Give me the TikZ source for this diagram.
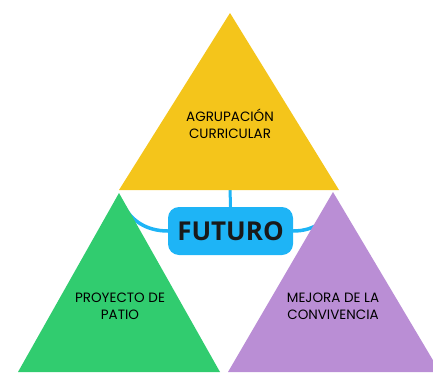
\documentclass[tikz,border=0pt]{standalone}
\usepackage{fontspec}
\setmainfont{Poppins}
\newfontfamily\boxfont{Open Sans}
\definecolor{cyel}{HTML}{F4C51B}
\definecolor{cgrn}{HTML}{31CC6F}
\definecolor{cpur}{HTML}{BA8ED5}
\definecolor{cblu}{HTML}{1EB4F6}
\pgfdeclarelayer{lyrA}
\pgfdeclarelayer{lyrB}
\pgfsetlayers{lyrA,lyrB,main}
\tikzset{
  conn/.style={draw=cblu, line width=3.5pt},
  lbl/.style={align=center, font=\fontsize{13.5}{17}\selectfont, text=black, inner sep=0pt},
  mainbox/.style={fill=cblu, rounded corners=11pt, minimum width=125pt, minimum height=48pt, inner sep=0pt, font=\boxfont\bfseries\fontsize{26}{30}\selectfont, text=black!90}
}
\begin{document}
\begin{tikzpicture}[x=1pt,y=-1pt]
\useasboundingbox (0,0) rectangle (433,372);
\clip (0,0) rectangle (433,372);
% coordinates
\coordinate (ya) at (230,13);
\coordinate (ga) at (119,193);
\coordinate (pa) at (333,192);
\coordinate (gin) at (124,206);
\coordinate (pin) at (328,205);
\coordinate (ybase) at (230,188);
% central node
\node[mainbox] (fut) at (230.5,231) {FUTURO};
% connectors (under the triangles)
\begin{pgfonlayer}{lyrA}
\draw[conn] (fut.west) .. controls (146,231) and (131,220) .. (gin);
\draw[conn] (fut.east) .. controls (315,231) and (330,219) .. (pin);
\draw[conn, line width=3pt] (fut.north) -- (ybase);
\end{pgfonlayer}
% triangles
\begin{pgfonlayer}{lyrB}
\fill[cyel] (ya) -- (119,190) -- (339,190) -- cycle;
\fill[cgrn] (ga) -- (18,372) -- (220,372) -- cycle;
\fill[cpur] (pa) -- (228,372) -- (440,372) -- cycle;
\end{pgfonlayer}
% labels
\node[lbl] (t1) at (230,124) {AGRUPACIÓN\\CURRICULAR};
\node[lbl] (t2) at (120,306) {PROYECTO DE\\PATIO};
\node[lbl] (t3) at (333,306) {MEJORA DE LA\\CONVIVENCIA};
\end{tikzpicture}
\end{document}
